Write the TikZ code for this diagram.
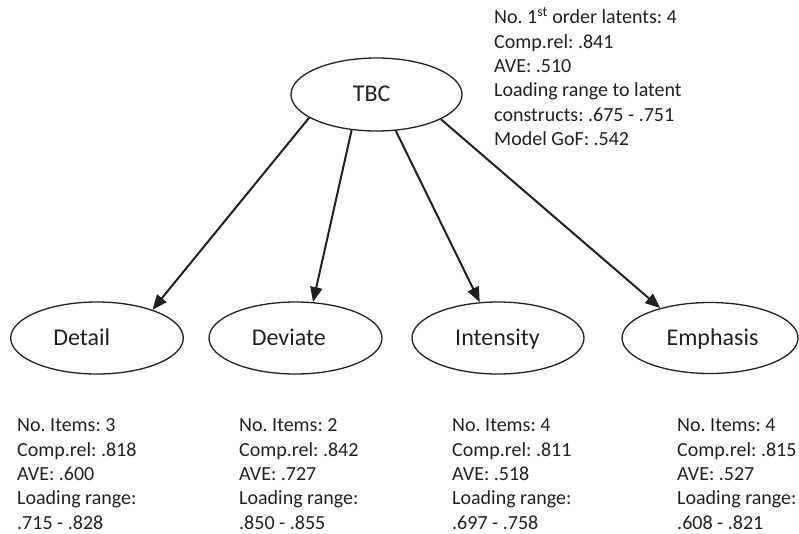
\documentclass[tikz,border=0pt]{standalone}
\usepackage{fontspec}
\setmainfont{Carlito}
\usetikzlibrary{arrows.meta,shapes.geometric}
\definecolor{ink}{HTML}{231F20}

\begin{document}
\frenchspacing
\begin{tikzpicture}[x=1pt,y=-1pt,
  latent/.style={ellipse, draw=ink, line width=1.3pt, inner sep=0pt},
  lbl/.style={anchor=base, inner sep=0pt, text=ink, font=\fontsize{24}{28}\selectfont},
  info/.style={anchor=north west, inner sep=0pt, align=left, text=ink,
    font=\fontsize{20}{24.3}\selectfont\frenchspacing},
  conn/.style={draw=ink, line width=2pt, -{Triangle[length=15pt,width=12pt]}}
]
\useasboundingbox (0,0) rectangle (799,533);

% second-order construct
\node[latent, minimum width=171pt, minimum height=73pt] (tbc) at (376.5,94.5) {};
\node[lbl] (tbctxt) at (371.7,101.7) {TBC};

% first-order constructs
\node[latent, minimum width=172.6pt, minimum height=72pt] (detail) at (97,338) {};
\node[latent, minimum width=173pt, minimum height=72pt] (deviate) at (295.5,338) {};
\node[latent, minimum width=172pt, minimum height=72pt] (intensity) at (498,338) {};
\node[latent, minimum width=176pt, minimum height=71pt] (emphasis) at (710,338) {};
\node[lbl] (detailtxt) at (81.7,345.3) {Detail};
\node[lbl] (deviatetxt) at (288.8,345.3) {Deviate};
\node[lbl] (intensitytxt) at (497.5,345.3) {Intensity};
\node[lbl] (emphasistxt) at (712.5,345.3) {Emphasis};

% loadings
\draw[conn] (tbc.199.5) -- (detail.27.8);
\draw[conn] (tbc.235.4) -- (deviate.64.5);
\draw[conn] (tbc.298.8) -- (intensity.117.6);
\draw[conn] (tbc.339.1) -- (emphasis.149.7);

% statistics
\node[info] (tbcinfo) at (494,7.3) {\rule{0pt}{16pt}No. 1\textsuperscript{st} order latents: 4\\
  Comp.rel: .841\\ AVE: .510\\ Loading range to latent\\ constructs: .675 - .751\\ Model GoF: .542};
\node[info] (detailinfo) at (17,415.7) {\rule{0pt}{16pt}No. Items: 3\\ Comp.rel: .818\\ AVE: .600\\ Loading range:\\ .715 - .828};
\node[info] (deviateinfo) at (239,415.7) {\rule{0pt}{16pt}No. Items: 2\\ Comp.rel: .842\\ AVE: .727\\ Loading range:\\ .850 - .855};
\node[info] (intensityinfo) at (452,415.7) {\rule{0pt}{16pt}No. Items: 4\\ Comp.rel: .811\\ AVE: .518\\ Loading range:\\ .697 - .758};
\node[info] (emphasisinfo) at (677,415.7) {\rule{0pt}{16pt}No. Items: 4\\ Comp.rel: .815\\ AVE: .527\\ Loading range:\\ .608 - .821};
\end{tikzpicture}
\end{document}
